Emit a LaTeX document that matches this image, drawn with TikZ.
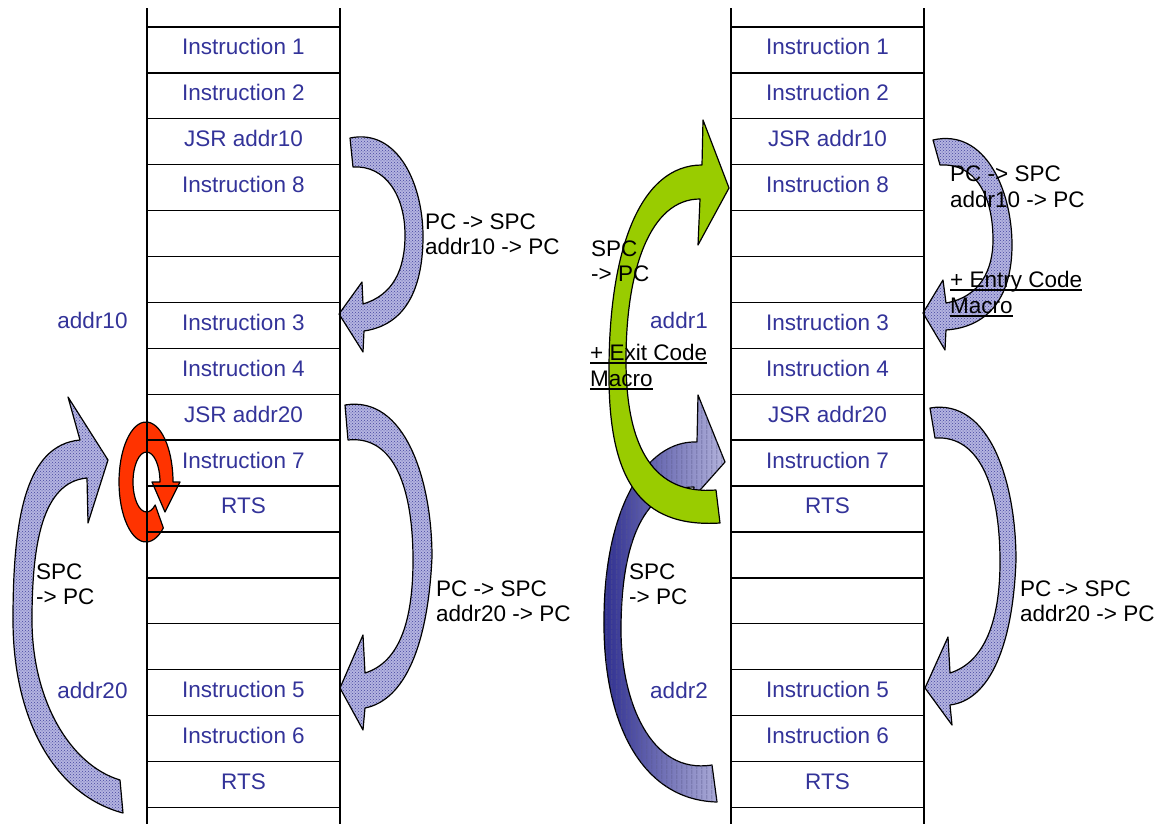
\documentclass[tikz,border=0pt]{standalone}
\usepackage{fontspec}
\setmainfont{Liberation Sans}
\usetikzlibrary{patterns}
\pgfdeclarepatternformonly{widestripes}{\pgfqpoint{0pt}{0pt}}{\pgfqpoint{5pt}{5pt}}{\pgfqpoint{5pt}{5pt}}{%
  \pgfpathrectangle{\pgfqpoint{2pt}{0pt}}{\pgfqpoint{0.6pt}{5pt}}\pgfusepath{fill}}
\definecolor{txtblue}{HTML}{333399}
\definecolor{arrowbg}{HTML}{B4B4E0}
\definecolor{arrowdot}{HTML}{4646A0}
\definecolor{greenarrow}{HTML}{99CC00}
\definecolor{redarrow}{HTML}{FF3300}
\definecolor{darkarrow}{HTML}{2E2E90}
\definecolor{paleend}{HTML}{B4B4DC}
\definecolor{stripecol}{HTML}{5A5A8C}
\begin{document}
\begin{tikzpicture}[x=1pt,y=-1pt,font=\fontsize{22.5}{25}\selectfont,
  cell/.style={draw, line width=1.4pt, minimum width=193pt, minimum height=45.9pt,
    inner sep=0pt, outer sep=0pt, text=txtblue, text height=16pt, text depth=6pt},
  lbl/.style={anchor=base west, inner sep=0pt, text=black},
  blbl/.style={inner sep=0pt, text=txtblue},
  lightarrow/.style={draw=black, line width=1.2pt, line join=round,
    preaction={fill=arrowbg}, pattern=crosshatch dots, pattern color=arrowdot},
  gradarrow/.style={draw=black, line width=1.2pt, line join=round,
    left color=darkarrow, right color=paleend,
    postaction={pattern=widestripes, pattern color=stripecol}},
  greenarr/.style={draw=black, line width=1.2pt, line join=round, fill=greenarrow},
  redarr/.style={draw=black, line width=1.2pt, line join=round, fill=redarrow},
  ulline/.style={line width=1.8pt}]
\useasboundingbox (0,0) rectangle (1162,824);

% ---------- arrows (left) ----------
% JSR addr10 -> Instruction 3
\path[lightarrow] (350,138) .. controls (398,128) and (424,185) .. (423,240)
  .. controls (422,290) and (405,325) .. (364,331) -- (363,352) -- (339,314)
  -- (362,282) -- (363,304) .. controls (393,295) and (405,270) .. (405,235)
  .. controls (405,195) and (385,165) .. (353,167) -- cycle;
% JSR addr20 -> Instruction 5
\path[lightarrow] (345,405) .. controls (405,395) and (432,480) .. (432,557)
  .. controls (428,645) and (405,700) .. (365,708) -- (363,730) -- (340,688)
  -- (363,635) -- (365,673) .. controls (400,662) and (413,620) .. (413,560)
  .. controls (413,490) and (395,435) .. (348,440) -- cycle;
% return arrow (bottom left, up)
\path[lightarrow] (80,440) .. controls (25,445) and (13,520) .. (13,620)
  .. controls (13,720) and (55,795) .. (123,813) -- (120,780)
  .. controls (70,765) and (32,700) .. (32,620)
  .. controls (32,545) and (42,482) .. (87,478) -- (88,523) -- (108,460)
  -- (68,397) -- cycle;
% red circular arrow
\path[redarr] (163.36,527.96) arc[start angle=50,end angle=360,x radius=27,y radius=60]
  -- (180,482) -- (165,512) -- (152,482) -- (160,482)
  arc[start angle=0,end angle=-310,x radius=13.5,y radius=30] -- cycle;

% ---------- arrows (right) ----------
\path[lightarrow] (933,140) .. controls (985,128) and (1012,190) .. (1012,245)
  .. controls (1012,295) and (990,327) .. (946,330) -- (945,350) -- (923,313)
  -- (943,280) -- (946,303) .. controls (980,297) and (993,270) .. (993,240)
  .. controls (993,195) and (975,163) .. (940,165) -- cycle;
\path[lightarrow] (930,408) .. controls (990,398) and (1016,483) .. (1016,560)
  .. controls (1013,645) and (990,700) .. (950,705) -- (952,725) -- (925,688)
  -- (948,637) -- (950,673) .. controls (985,662) and (1000,620) .. (1000,562)
  .. controls (1000,492) and (982,435) .. (935,438) -- cycle;
% gradient arrow (addr2)
\path[gradarrow] (697,442) .. controls (645,440) and (604,510) .. (604,620)
  .. controls (603,720) and (640,800) .. (717,802) -- (712,765)
  .. controls (650,775) and (621,700) .. (621,630)
  .. controls (621,540) and (645,487) .. (694,487) -- (693,498) -- (725,462)
  -- (698,395) -- cycle;
% green arrow (addr1)
\path[greenarr] (720,523) .. controls (640,528) and (608,480) .. (609,370)
  .. controls (609,250) and (640,165) .. (702,165) -- (703,120) -- (729,188)
  -- (698,245) -- (700,199) .. controls (650,199) and (626,270) .. (626,360)
  .. controls (626,450) and (655,495) .. (716,490) -- cycle;

% ---------- memory columns ----------
\foreach \t [count=\i] in {Instruction 1,Instruction 2,JSR addr10,Instruction 8,{},{},
  Instruction 3,Instruction 4,JSR addr20,Instruction 7,RTS,{},{},{},
  Instruction 5,Instruction 6,RTS}{
  \node[cell] (L\i) at (243.5,{27+45.9*(\i-0.5)}) {\t};
  \node[cell] (R\i) at (827.5,{27+45.9*(\i-0.5)}) {\t};
}
\draw[line width=1.4pt] (L1.north west) -- ++(0,-19) (L1.north east) -- ++(0,-19)
  (L17.south west) -- ++(0,17) (L17.south east) -- ++(0,17)
  (R1.north west) -- ++(0,-19) (R1.north east) -- ++(0,-19)
  (R17.south west) -- ++(0,17) (R17.south east) -- ++(0,17);

% ---------- labels left ----------
\node[blbl] (a10) at (92.5,320) {addr10};
\node[blbl] (a20) at (92.5,690) {addr20};
\node[lbl] (p1a) at (425,229) {PC -> SPC};
\node[lbl] (p1b) at (425,254) {addr10 -> PC};
\node[lbl] (s1a) at (36,579) {SPC};
\node[lbl] (s1b) at (36,604) {-> PC};
\node[lbl] (p2a) at (436,596) {PC -> SPC};
\node[lbl] (p2b) at (436,621) {addr20 -> PC};

% ---------- labels right ----------
\node[blbl] (a1) at (679,320) {addr1};
\node[blbl] (a2) at (679,690) {addr2};
\node[lbl] (p3a) at (950,182) {PC -> SPC};
\node[lbl] (p3b) at (950,207) {addr10 -> PC};
\node[lbl] (e1) at (950,287) {+ Entry Code};
\node[lbl] (e2) at (950,313) {Macro};
\draw[ulline] ([yshift=-3pt]e1.base west) -- ([yshift=-3pt]e1.base east);
\draw[ulline] ([yshift=-3pt]e2.base west) -- ([yshift=-3pt]e2.base east);
\node[lbl] (s2a) at (591,256) {SPC};
\node[lbl] (s2b) at (591,281) {-> PC};
\node[lbl] (x1) at (590,360) {+ Exit Code};
\node[lbl] (x2) at (590,386) {Macro};
\draw[ulline] ([yshift=-3pt]x1.base west) -- ([yshift=-3pt]x1.base east);
\draw[ulline] ([yshift=-3pt]x2.base west) -- ([yshift=-3pt]x2.base east);
\node[lbl] (s3a) at (629,579) {SPC};
\node[lbl] (s3b) at (629,604) {-> PC};
\node[lbl] (p4a) at (1020,596) {PC -> SPC};
\node[lbl] (p4b) at (1020,621) {addr20 -> PC};
\end{tikzpicture}
\end{document}
